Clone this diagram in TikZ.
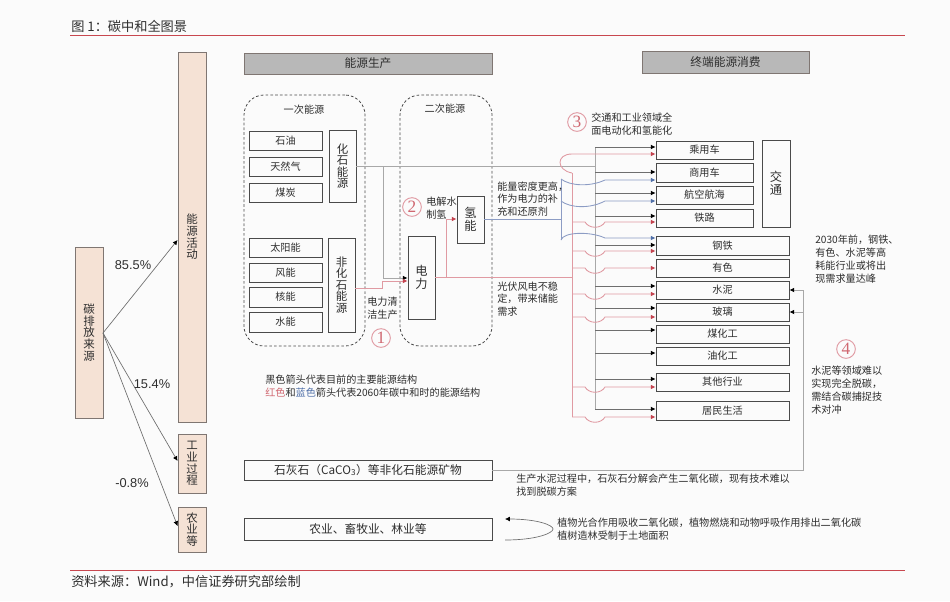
\documentclass[tikz,border=0pt]{standalone}
\usepackage{fontspec}
\setmainfont{Noto Sans CJK SC}
\newfontfamily\latinf{Liberation Sans}
\newfontfamily\serifnum{Liberation Serif}
\usetikzlibrary{arrows.meta}
\definecolor{bgc}{HTML}{FBFBFB}
\definecolor{txt}{HTML}{2E2E2E}
\definecolor{peach}{HTML}{F5E2D5}
\definecolor{hdr}{HTML}{B8B8B8}
\definecolor{edge}{HTML}{4A4A4A}
\definecolor{edgesoft}{HTML}{7F7672}
\definecolor{redl}{HTML}{E09AA2}
\definecolor{redh}{HTML}{C4424E}
\definecolor{bluel}{HTML}{8C9CC4}
\definecolor{blueh}{HTML}{4F6FA8}
\definecolor{grayl}{HTML}{A8A8A8}
\definecolor{rule}{HTML}{C8474F}
\tikzset{
  basebox/.style={draw=edge,line width=0.65pt,inner sep=0pt,text=txt,align=center},
  small/.style={font=\fontsize{7.6}{9.6}\selectfont,text=txt},
  medium/.style={font=\fontsize{8.8}{10.4}\selectfont,text=txt},
  plainbox/.style={basebox,small},
  vbox/.style={basebox,font=\fontsize{8.6}{8.6}\selectfont},
  bigbox/.style={basebox,font=\fontsize{9.2}{10}\selectfont},
  widebox/.style={basebox,medium},
  peachbox/.style={draw=edgesoft,fill=peach,line width=0.65pt,inner sep=0pt,text=txt,align=center,font=\fontsize{8.6}{8.8}\selectfont},
  hdrbox/.style={draw=edgesoft,fill=hdr,line width=0.65pt,inner sep=0pt,text=txt,font=\fontsize{8.8}{10}\selectfont},
  dashbox/.style={draw=edge,dash pattern=on 2pt off 1.6pt,line width=0.6pt,rounded corners=15pt,inner sep=0pt},
  note/.style={small,inner sep=0pt,align=left,anchor=west},
  badge/.style={circle,draw=redl,line width=0.7pt,text=redh!80,inner sep=0pt,minimum size=14pt,font=\serifnum\fontsize{13}{13}\selectfont},
  blackline/.style={draw=edge!80,line width=0.5pt},
  grayline/.style={draw=grayl,line width=0.65pt},
  redline/.style={draw=redl,line width=0.65pt},
  blueline/.style={draw=bluel,line width=0.65pt},
  ktip/.style={-{Latex[length=3.6pt,width=3.6pt,color=black]}},
  rtip/.style={-{Latex[length=3.6pt,width=3.6pt,color=redh]}},
  btip/.style={-{Latex[length=3.6pt,width=3.6pt,color=blueh]}},
  pct/.style={font=\latinf\fontsize{9.6}{11}\selectfont,text=txt,inner sep=0pt},
}
\newcommand{\BX}[7]{%
  \pgfmathsetmacro{\bxw}{(#4-#2)*0.75}\pgfmathsetmacro{\bxh}{(#5-#3)*0.75}%
  \pgfmathsetmacro{\bxx}{(#2+#4)/2}\pgfmathsetmacro{\bxy}{(#3+#5)/2}%
  \node[#6,minimum width=\bxw pt,minimum height=\bxh pt] (#1) at (\bxx,\bxy) {#7};}
\begin{document}
\begin{tikzpicture}[x=0.75pt,y=-0.75pt]
\useasboundingbox (0,0) rectangle (950,601);
\fill[bgc] (0,0) rectangle (950,601);
% title and rules
\node[anchor=west,inner sep=0pt,text=txt,font=\fontsize{9.9}{11}\selectfont] (title) at (71,26) {图 1：碳中和全图景};
\node[anchor=west,inner sep=0pt,text=txt,font=\fontsize{9.9}{11}\selectfont] (source) at (71,582) {资料来源：Wind，中信证券研究部绘制};
\draw[rule,line width=0.7pt] (70,35) -- (905,35);
\draw[rule,line width=0.7pt] (70,570) -- (905,570);
% left column
\BX{carbon}{75}{247}{103}{418}{peachbox}{碳\\排\\放\\来\\源}
\BX{act}{178}{52}{206}{422}{peachbox}{能\\源\\活\\动}
\BX{ind}{178}{434}{206}{493}{peachbox}{工\\业\\过\\程}
\BX{agr}{178}{507}{206}{552}{peachbox}{农\\业\\等}
\coordinate (src) at (103,333);
\draw[blackline,ktip] (src) -- (act.west |- 0,240);
\draw[blackline,ktip] (src) -- (ind.west |- 0,461);
\draw[blackline,ktip] (src) -- (agr.west |- 0,526);
\node[pct] (p1) at (133,265) {85.5\%};
\node[pct] (p2) at (152,384) {15.4\%};
\node[pct] (p3) at (132,483) {-0.8\%};
% headers
\BX{hprod}{244}{53}{492}{74}{hdrbox}{能源生产}
\BX{hcons}{642}{51}{809}{73}{hdrbox}{终端能源消费}
% dashed groups
\BX{prim}{244}{95}{365}{346}{dashbox}{}
\BX{sec}{400}{95}{492}{346}{dashbox}{}
\node[small,inner sep=0pt] (lprim) at (304,110) {一次能源};
\node[small,inner sep=0pt] (lsec) at (445,109) {二次能源};
% primary sources
\BX{oil}{249}{131}{322}{150}{plainbox}{石油}
\BX{gas}{249}{157}{322}{176}{plainbox}{天然气}
\BX{coal}{249}{183}{322}{202}{plainbox}{煤炭}
\BX{fossil}{329}{130}{356}{202}{vbox}{化\\石\\能\\源}
\BX{solar}{249}{238}{322}{257}{plainbox}{太阳能}
\BX{wind}{249}{263}{322}{282}{plainbox}{风能}
\BX{nuke}{249}{287}{322}{307}{plainbox}{核能}
\BX{hydro}{249}{312}{322}{332}{plainbox}{水能}
\BX{nonfossil}{328}{238}{355}{332}{vbox}{非\\化\\石\\能\\源}
% secondary
\BX{elec}{408}{236}{435}{319}{bigbox}{电\\力}
\BX{h2}{457}{196}{484}{243}{bigbox}{氢\\能}
% end uses
\BX{car}{656}{141}{753}{159}{plainbox}{乘用车}
\BX{truck}{656}{163}{753}{182}{plainbox}{商用车}
\BX{air}{656}{186}{753}{204}{plainbox}{航空航海}
\BX{rail}{656}{209}{753}{227}{plainbox}{铁路}
\BX{traffic}{762}{140}{790}{227}{bigbox}{交\\通}
\BX{steel}{656}{236}{789}{255}{plainbox}{钢铁}
\BX{metal}{656}{259}{789}{277}{plainbox}{有色}
\BX{cement}{656}{281}{789}{299}{plainbox}{水泥}
\BX{glass}{656}{303}{789}{321}{plainbox}{玻璃}
\BX{coalchem}{656}{325}{789}{343}{plainbox}{煤化工}
\BX{oilchem}{656}{347}{789}{365}{plainbox}{油化工}
\BX{other}{656}{373}{789}{391}{plainbox}{其他行业}
\BX{life}{656}{401}{789}{420}{plainbox}{居民生活}
% bottom boxes
\BX{lime}{244}{460}{492}{480}{widebox}{石灰石（CaCO\textsubscript{3}）等非化石能源矿物}
\BX{farm}{244}{518}{492}{540}{widebox}{农业、畜牧业、林业等}
% junctions
\coordinate (busT) at (595,147);
\coordinate (busB) at (595,409);
\coordinate (redT) at (572,173);
\coordinate (redB) at (572,417);
\coordinate (jf) at (383,166);
\coordinate (blT) at (561,179);
\coordinate (blB) at (561,240);
% current structure (gray / black)
\draw[grayline] (fossil.east |- jf) -- (595,166);
\draw[grayline,ktip] (jf) -- (383,278) -- (elec.west |- 0,278);
\draw[redline,rtip] (nonfossil.east |- 0,288) -- (382,288) -- (382,281) -- (elec.west |- 0,281);
\draw[grayline] (busT) -- (busB);
\foreach \yy/\tg in {147/car,172/truck,193/air,216/rail,245/steel,286/cement,308/glass,330/coalchem,353/oilchem,379/other,409/life}{
  \draw[blackline,ktip] (595,\yy) -- (\tg.west |- 0,\yy);
}
% electricity bus
\draw[redline] (elec.east |- 0,277) -- (572,277);
\draw[redline,rtip] (446,277) -- (446,219) -- (h2.west |- 0,219);
\draw[redline] (redT) -- (redB);
\draw[redline,rtip] (redT) .. controls (556,170) and (556,154) .. (572,154) -- (car.west |- 0,154);
\foreach \yy/\tg in {222/rail,251/steel,268/metal,294/cement,317/glass,387/other,417/life}{
  \draw[redline,rtip] (572,\yy) -- (585,\yy) .. controls (589,\yy+7) and (601,\yy+7) .. (605,\yy) -- (\tg.west |- 0,\yy);
}
% hydrogen bus
\draw[blueline] (h2.east |- 0,219) -- (561,219);
\draw[blueline] (blT) -- (blB);
\draw[blueline,btip] (blT) .. controls (570,186) and (590,187) .. (605,180) -- (truck.west |- 0,180);
\draw[blueline,btip] (561,201) .. controls (570,208) and (590,209) .. (605,201) -- (air.west |- 0,201);
\draw[blueline,btip] (blB) .. controls (563,232) and (590,231) .. (605,238) -- (steel.west |- 0,238);
% process emissions
\draw[grayline] (lime.east) -- (803,470) -- (803,290);
\draw[grayline,ktip] (803,290) -- (cement.east |- 0,290);
\draw[grayline,ktip] (803,312) -- (glass.east |- 0,312);
% agriculture cycle
\coordinate (cycA) at (505,540);
\coordinate (cycB) at (505,519);
\draw[blackline,ktip] (cycA) .. controls (537,540) and (553,533) .. (553,529) .. controls (553,525) and (537,519) .. (cycB);
% notes
\node[note] (n1) at (497,199) {能量密度更高，\\作为电力的补\\充和还原剂};
\node[note] (n2) at (497,299) {光伏风电不稳\\定，带来储能\\需求};
\node[note] (n3) at (426,208) {电解水\\制氢};
\node[note] (n4) at (367,308) {电力清\\洁生产};
\node[note] (n5) at (591,124) {交通和工业领域全\\面电动化和氢能化};
\node[note] (n6) at (815,259) {2030年前，钢铁、\\有色、水泥等高\\耗能行业或将出\\现需求量达峰};
\node[note] (n7) at (811,390) {水泥等领域难以\\实现完全脱碳，\\需结合碳捕捉技\\术对冲};
\node[note] (n8) at (265,386.5) {黑色箭头代表目前的主要能源结构\\\textcolor{redh!80}{红色}和\textcolor{blueh}{蓝色}箭头代表2060年碳中和时的能源结构};
\node[note] (n9) at (516,485.5) {生产水泥过程中，石灰石分解会产生二氧化碳，现有技术难以\\找到脱碳方案};
\node[note] (n10) at (557,529) {植物光合作用吸收二氧化碳，植物燃烧和动物呼吸作用排出二氧化碳\\植树造林受制于土地面积};
% badges
\node[badge] (b1) at (381,338) {1};
\node[badge] (b2) at (412,207) {2};
\node[badge] (b3) at (577,122) {3};
\node[badge] (b4) at (846,349) {4};
\end{tikzpicture}
\end{document}
